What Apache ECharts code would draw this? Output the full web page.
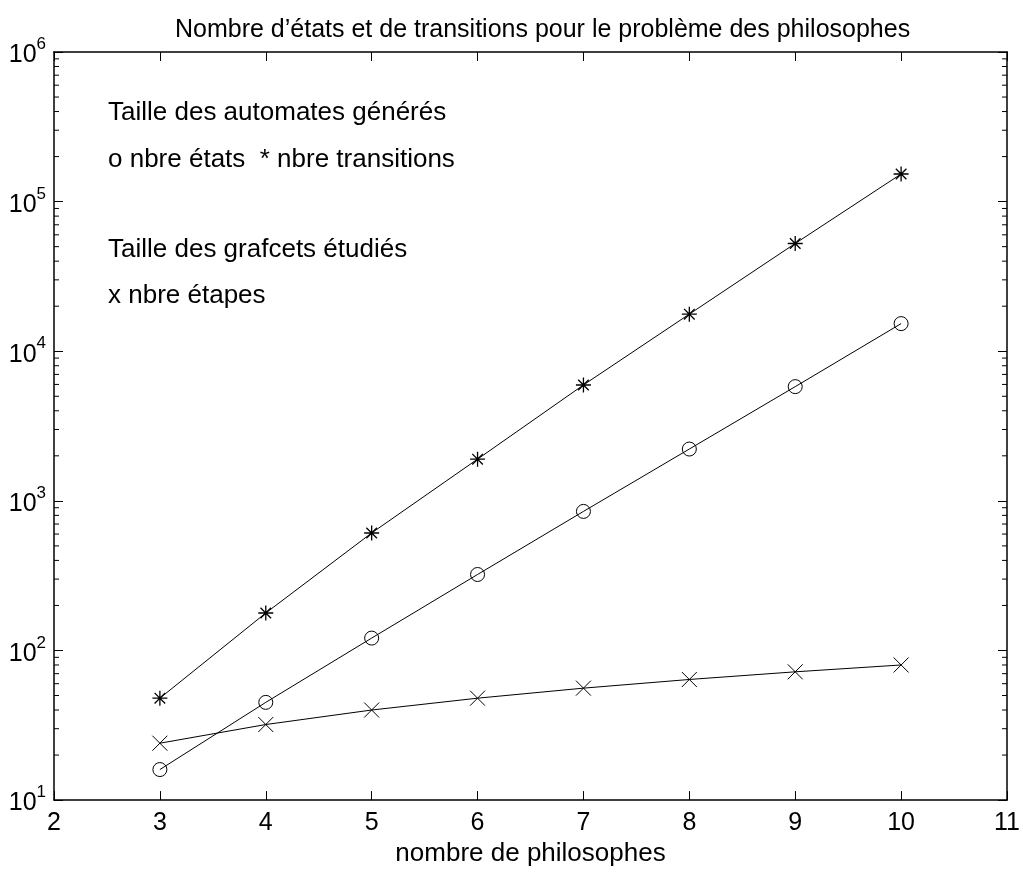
<!DOCTYPE html>
<html><head><meta charset="utf-8">
<script src="https://cdn.jsdelivr.net/npm/echarts@6/dist/echarts.min.js"></script>
<style>html,body{margin:0;padding:0;background:#fff}#c{width:1023px;height:872px}</style>
</head><body><div id="c"></div>
<script>
const philosophes = [3, 4, 5, 6, 7, 8, 9, 10];
const nbreEtats = [16, 45, 121, 322, 850, 2220, 5800, 15300];
const nbreTransitions = [48, 178, 610, 1900, 5950, 17700, 52500, 153000];
const nbreEtapes = [24, 32, 40, 48, 56, 64, 72, 80];
const minorTickValues = [];
for (let k = 1; k <= 5; k++) for (let m = 2; m <= 9; m++) minorTickValues.push(m * Math.pow(10, k));

const FONT = 'Liberation Sans, Arial, Helvetica, sans-serif';
const starPath = 'path://M10,0L10,20M0,10L20,10M2.93,2.93L17.07,17.07M17.07,2.93L2.93,17.07';
const crossPath = 'path://M0,0L20,20M20,0L0,20';

function pairs(ys) { return philosophes.map((x, i) => [x, ys[i]]); }

const chart = echarts.init(document.getElementById('c'));
const lineBase = {
  type: 'line', lineStyle: { color: '#000', width: 1 }, color: '#000',
  showAllSymbol: true, animation: false, silent: true
};
chart.setOption({
  backgroundColor: '#fff',
  animation: false,
  title: {
    text: 'Nombre d\u2019états et de transitions pour le problème des philosophes',
    left: 170, top: 13,
    textStyle: { fontFamily: FONT, fontSize: 25, fontWeight: 'normal', color: '#000' }
  },
  grid: { left: 54, right: 16, top: 52, bottom: 69 },
  xAxis: [{
    type: 'value', min: 2, max: 11, interval: 1, position: 'bottom',
    name: 'nombre de philosophes', nameLocation: 'middle', nameGap: 31,
    nameTextStyle: { fontFamily: FONT, fontSize: 26, color: '#000' },
    axisLine: { lineStyle: { color: '#000', width: 1.5 } },
    axisTick: { inside: true, length: 9, lineStyle: { color: '#000' } },
    axisLabel: { fontFamily: FONT, fontSize: 25, color: '#000', margin: 11 },
    splitLine: { show: false }
  }, {
    type: 'value', min: 2, max: 11, interval: 1, position: 'top',
    axisLine: { lineStyle: { color: '#000', width: 1.5 } },
    axisTick: { inside: true, length: 9, lineStyle: { color: '#000' } },
    axisLabel: { show: false }, splitLine: { show: false }
  }],
  yAxis: [{
    type: 'log', logBase: 10, min: 10, max: 1e6, position: 'left',
    axisLine: { lineStyle: { color: '#000', width: 1.5 } },
    axisTick: { inside: true, length: 9, lineStyle: { color: '#000' } },
    axisLabel: {
      margin: 8, color: '#000',
      formatter: v => '{b|10}{s|' + Math.round(Math.log10(v)) + '}',
      rich: {
        b: { fontFamily: FONT, fontSize: 25, color: '#000', lineHeight: 32, verticalAlign: 'bottom' },
        s: { fontFamily: FONT, fontSize: 17, color: '#000', lineHeight: 32, verticalAlign: 'top' }
      }
    },
    splitLine: { show: false }
  }, {
    type: 'log', logBase: 10, min: 10, max: 1e6, position: 'right',
    axisLine: { lineStyle: { color: '#000', width: 1.5 } },
    axisTick: { inside: true, length: 9, lineStyle: { color: '#000' } },
    axisLabel: { show: false }, splitLine: { show: false }
  }],
  graphic: [
    { type: 'text', left: 108, top: 100, style: { text: 'Taille des automates générés', font: '26px ' + FONT, fill: '#000' } },
    { type: 'text', left: 108, top: 147, style: { text: 'o nbre états  * nbre transitions', font: '26px ' + FONT, fill: '#000' } },
    { type: 'text', left: 108, top: 237, style: { text: 'Taille des grafcets étudiés', font: '26px ' + FONT, fill: '#000' } },
    { type: 'text', left: 108, top: 283, style: { text: 'x nbre étapes', font: '26px ' + FONT, fill: '#000' } }
  ],
  series: [
    Object.assign({}, lineBase, {
      name: 'nbre transitions', data: pairs(nbreTransitions),
      symbol: starPath, symbolSize: 15,
      itemStyle: { color: 'transparent', borderColor: '#000', borderWidth: 1.3 }
    }),
    Object.assign({}, lineBase, {
      name: 'nbre états', data: pairs(nbreEtats),
      symbol: 'circle', symbolSize: 14,
      itemStyle: { color: 'transparent', borderColor: '#000', borderWidth: 1 }
    }),
    Object.assign({}, lineBase, {
      name: 'nbre étapes', data: pairs(nbreEtapes),
      symbol: crossPath, symbolSize: 15,
      itemStyle: { color: 'transparent', borderColor: '#000', borderWidth: 1 }
    }),
    {
      type: 'custom', silent: true, clip: false,
      data: minorTickValues.map(v => [v]),
      encode: { y: 0 },
      renderItem: function (params, api) {
        const v = api.value(0);
        const l = api.coord([2, v]);
        const r = api.coord([11, v]);
        return {
          type: 'group', children: [
            { type: 'line', shape: { x1: l[0], y1: l[1], x2: l[0] + 5, y2: l[1] }, style: { stroke: '#000', lineWidth: 1 } },
            { type: 'line', shape: { x1: r[0], y1: r[1], x2: r[0] - 5, y2: r[1] }, style: { stroke: '#000', lineWidth: 1 } }
          ]
        };
      }
    }
  ]
});
</script></body></html>
